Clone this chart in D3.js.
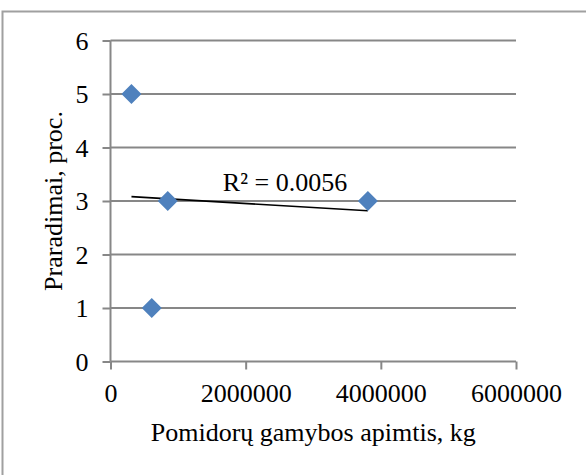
<!DOCTYPE html>
<html>
<head>
<meta charset="utf-8">
<script src="https://cdn.jsdelivr.net/npm/d3@7"></script>
<style>
  html, body { margin: 0; padding: 0; background: #fff; }
  svg { display: block; }
  text { font-family: "Liberation Serif", "Times New Roman", serif; fill: #000; }
</style>
</head>
<body>
<script>
// Tomato production volume (kg) vs. losses (%)
const productionKg = [310000, 610000, 847000, 3808000];
const lossesPct = [5, 1, 3, 3];
const xTicks = [0, 2000000, 4000000, 6000000];
const yTicks = [0, 1, 2, 3, 4, 5, 6];
const xTitle = "Pomidorų gamybos apimtis, kg";
const yTitle = "Praradimai, proc.";
const r2Label = "R² = 0.0056";

const W = 586, H = 475;
const FS = 26;
const plot = { left: 110.5, right: 516, top: 40.5, bottom: 361.5 };

const svg = d3.select("body").append("svg").attr("width", W).attr("height", H);

// chart area frame (runs past the right and bottom edges)
svg.append("rect")
  .attr("x", 2.5).attr("y", 11.5)
  .attr("width", W + 10).attr("height", H + 10)
  .attr("fill", "#fff").attr("stroke", "#a0a0a0").attr("stroke-width", 2);

const x = d3.scaleLinear().domain([0, 6000000]).range([plot.left, plot.right]);
const y = d3.scaleLinear().domain([0, 6]).range([plot.bottom, plot.top]);

const gridColor = "#878787";

// horizontal gridlines
svg.append("g").selectAll("line").data(yTicks.filter(d => d > 0)).join("line")
  .attr("x1", plot.left).attr("x2", plot.right)
  .attr("y1", d => y(d)).attr("y2", d => y(d))
  .attr("stroke", gridColor).attr("stroke-width", 2);

// y axis
const yAxis = svg.append("g").attr("transform", `translate(${plot.left},0)`)
  .call(d3.axisLeft(y).tickValues(yTicks).tickSize(8).tickPadding(14).tickFormat(d3.format("d")));
yAxis.select(".domain").attr("stroke", gridColor).attr("stroke-width", 2)
  .attr("d", `M0,${plot.top}V${plot.bottom}`);
yAxis.selectAll(".tick line").attr("stroke", gridColor).attr("stroke-width", 2);
yAxis.selectAll(".tick text").attr("font-size", FS).attr("font-family", "Liberation Serif")
  .attr("fill", "#000").attr("dy", "0.34em");

// x axis
const xAxis = svg.append("g").attr("transform", `translate(0,${plot.bottom})`)
  .call(d3.axisBottom(x).tickValues(xTicks).tickSize(8).tickPadding(14).tickFormat(d3.format("d")));
xAxis.select(".domain").attr("stroke", gridColor).attr("stroke-width", 2)
  .attr("d", `M${plot.left},0H${plot.right}`);
xAxis.selectAll(".tick line").attr("stroke", gridColor).attr("stroke-width", 2);
xAxis.selectAll(".tick text").attr("font-size", FS).attr("font-family", "Liberation Serif")
  .attr("fill", "#000");

// linear trendline (least squares)
const n = productionKg.length;
const mx = d3.mean(productionKg), my = d3.mean(lossesPct);
let sxy = 0, sxx = 0;
for (let i = 0; i < n; i++) {
  sxy += (productionKg[i] - mx) * (lossesPct[i] - my);
  sxx += (productionKg[i] - mx) ** 2;
}
const slope = sxy / sxx, intercept = my - slope * mx;
const [x0, x1] = d3.extent(productionKg);
svg.append("line")
  .attr("x1", x(x0)).attr("y1", y(intercept + slope * x0))
  .attr("x2", x(x1)).attr("y2", y(intercept + slope * x1))
  .attr("stroke", "#000").attr("stroke-width", 1.6);

// data points
const pts = productionKg.map((v, i) => ({ x: v, y: lossesPct[i] }));
svg.append("g").selectAll("path").data(pts).join("path")
  .attr("transform", d => `translate(${x(d.x)},${y(d.y)})`)
  .attr("d", "M0,-10L10,0L0,10L-10,0Z")
  .attr("fill", "#4f81bd");

// R² label
svg.append("text")
  .attr("x", 285).attr("y", 190.5)
  .attr("text-anchor", "middle").attr("font-size", FS)
  .text(r2Label);

// axis titles
svg.append("text")
  .attr("x", (plot.left + plot.right) / 2).attr("y", 441)
  .attr("text-anchor", "middle").attr("font-size", FS)
  .text(xTitle);
svg.append("text")
  .attr("transform", `translate(62,${(plot.top + plot.bottom) / 2}) rotate(-90)`)
  .attr("text-anchor", "middle").attr("font-size", FS)
  .text(yTitle);
</script>
</body>
</html>
